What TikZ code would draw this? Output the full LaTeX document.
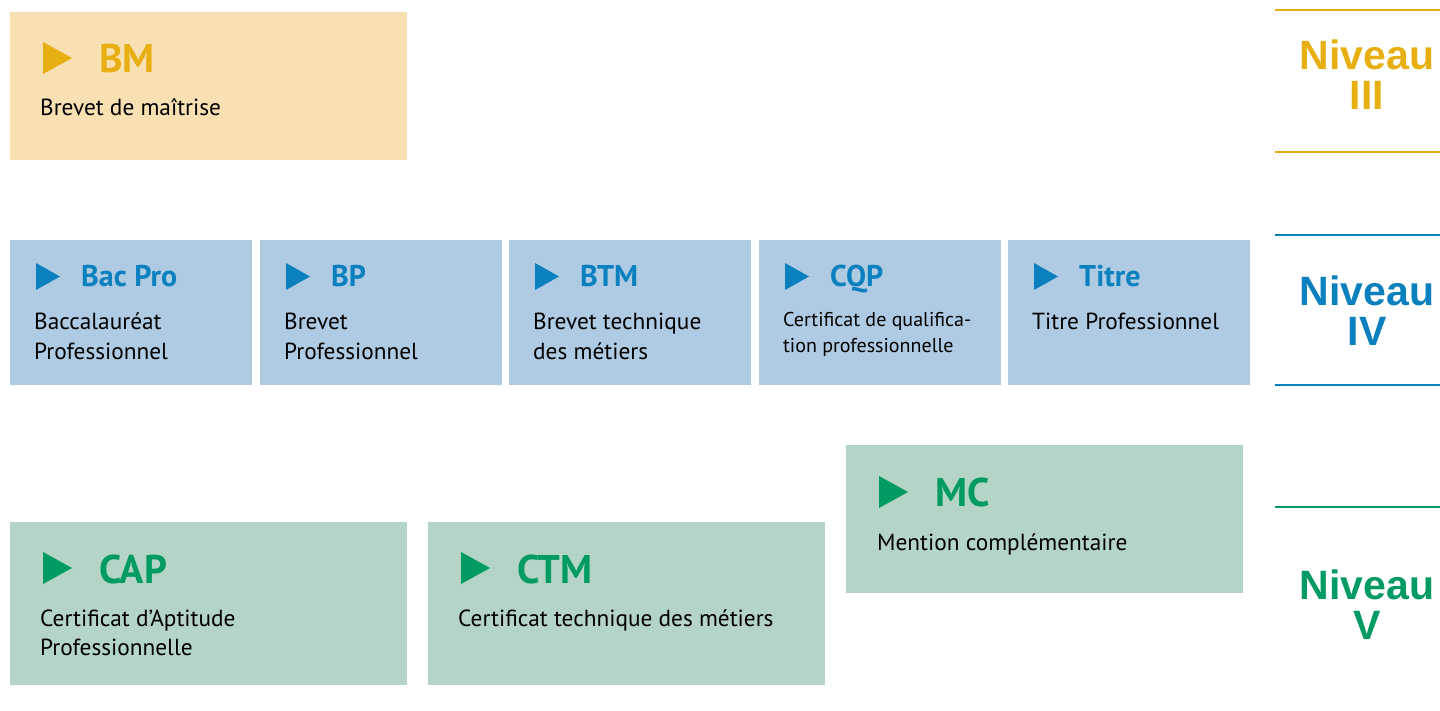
\documentclass[tikz,border=0pt]{standalone}
\usepackage{fontspec}
\setmainfont{PT Sans}
\setsansfont{Liberation Sans}
\usetikzlibrary{positioning}

\definecolor{orangeH}{HTML}{E8AF13}
\definecolor{orangeF}{HTML}{F8E0B3}
\definecolor{blueH}{HTML}{0A80BE}
\definecolor{blueF}{HTML}{AFCBE3}
\definecolor{greenH}{HTML}{009A63}
\definecolor{greenF}{HTML}{B4D4C7}

\tikzstyle{bigbox} = [rectangle, anchor=north west, inner sep=0, minimum width=397, minimum height=148]
\tikzstyle{smallbox} = [rectangle, anchor=north west, inner sep=0, minimum width=242, minimum height=145]
\tikzstyle{bighead} = [anchor=base west, inner sep=0, font=\bfseries\fontsize{40}{40}\selectfont]
\tikzstyle{smallhead} = [anchor=base west, inner sep=0, font=\bfseries\fontsize{30}{30}\selectfont]
\tikzstyle{body} = [anchor=base west, inner sep=0, align=left, font=\fontsize{23.3}{29}\selectfont]
\tikzstyle{niveau} = [anchor=base, inner sep=0, align=center, font=\sffamily\bfseries\fontsize{41}{40}\selectfont]
\tikzstyle{rule} = [line width=2.5]

\begin{document}
\begin{tikzpicture}[x=1pt, y=-1pt]
    \useasboundingbox (0,0) rectangle (1440,711);

    % Niveau III
    \node [bigbox, fill=orangeF] at (10,12) (bm) {};
    \fill [orangeH] (43,42) -- ++(29,16) -- ++(-29,16) -- cycle;
    \node [bighead, text=orangeH] at (99,73) (bmHead) {BM};
    \node [body] at (40,116) (bmText) {Brevet de maîtrise};

    % Niveau IV
    \node [smallbox, fill=blueF] at (10,240) (bacpro) {};
    \node [smallbox, fill=blueF] at (260,240) (bp) {};
    \node [smallbox, fill=blueF] at (509,240) (btm) {};
    \node [smallbox, fill=blueF] at (759,240) (cqp) {};
    \node [smallbox, fill=blueF] at (1008,240) (titre) {};
    \fill [blueH] (36,263) -- ++(24,13.5) -- ++(-24,13.5) -- cycle;
    \fill [blueH] (286,263) -- ++(24,13.5) -- ++(-24,13.5) -- cycle;
    \fill [blueH] (535,263) -- ++(24,13.5) -- ++(-24,13.5) -- cycle;
    \fill [blueH] (785,263) -- ++(24,13.5) -- ++(-24,13.5) -- cycle;
    \fill [blueH] (1034,263) -- ++(24,13.5) -- ++(-24,13.5) -- cycle;
    \node [smallhead, text=blueH] at (81,287) (bacproHead) {Bac Pro};
    \node [smallhead, text=blueH] at (331,287) (bpHead) {BP};
    \node [smallhead, text=blueH] at (580,287) (btmHead) {BTM};
    \node [smallhead, text=blueH] at (830,287) (cqpHead) {CQP};
    \node [smallhead, text=blueH] at (1079,287) (titreHead) {Titre};
    % two lines: base is the last line
    \node [body] at (34,359) (bacproText) {Baccalauréat\\Professionnel};
    \node [body] at (284,359) (bpText) {Brevet\\Professionnel};
    \node [body] at (533,359) (btmText) {Brevet technique\\des métiers};
    \node [body, font=\fontsize{20}{25}\selectfont] at (783,352) (cqpText) {Certificat de qualifica-\\tion professionnelle};
    \node [body] at (1032,330) (titreText) {Titre Professionnel};

    % Niveau V
    \node [bigbox, fill=greenF] at (846,445) (mc) {};
    \node [bigbox, fill=greenF, minimum height=163] at (10,522) (cap) {};
    \node [bigbox, fill=greenF, minimum height=163] at (428,522) (ctm) {};
    \fill [greenH] (879,476) -- ++(29,16) -- ++(-29,16) -- cycle;
    \fill [greenH] (43,552) -- ++(29,16) -- ++(-29,16) -- cycle;
    \fill [greenH] (461,552) -- ++(29,16) -- ++(-29,16) -- cycle;
    \node [bighead, text=greenH] at (935,506) (mcHead) {MC};
    \node [bighead, text=greenH] at (99,583) (capHead) {CAP};
    \node [bighead, text=greenH] at (517,583) (ctmHead) {CTM};
    \node [body] at (877,550) (mcText) {Mention complémentaire};
    \node [body] at (40,655) (capText) {Certificat d’Aptitude\\Professionnelle};
    \node [body] at (458,626) (ctmText) {Certificat technique des métiers};

    % niveaux
    \draw [rule, orangeH] (1275,10) -- (1440,10);
    \draw [rule, orangeH] (1275,152) -- (1440,152);
    \node [niveau, text=orangeH] at (1367,110) (n3) {Niveau\\III};
    \draw [rule, blueH] (1275,235) -- (1440,235);
    \draw [rule, blueH] (1275,385) -- (1440,385);
    \node [niveau, text=blueH] at (1367,345) (n4) {Niveau\\IV};
    \draw [rule, greenH] (1275,507) -- (1440,507);
    \node [niveau, text=greenH] at (1367,639) (n5) {Niveau\\V};
\end{tikzpicture}
\end{document}
